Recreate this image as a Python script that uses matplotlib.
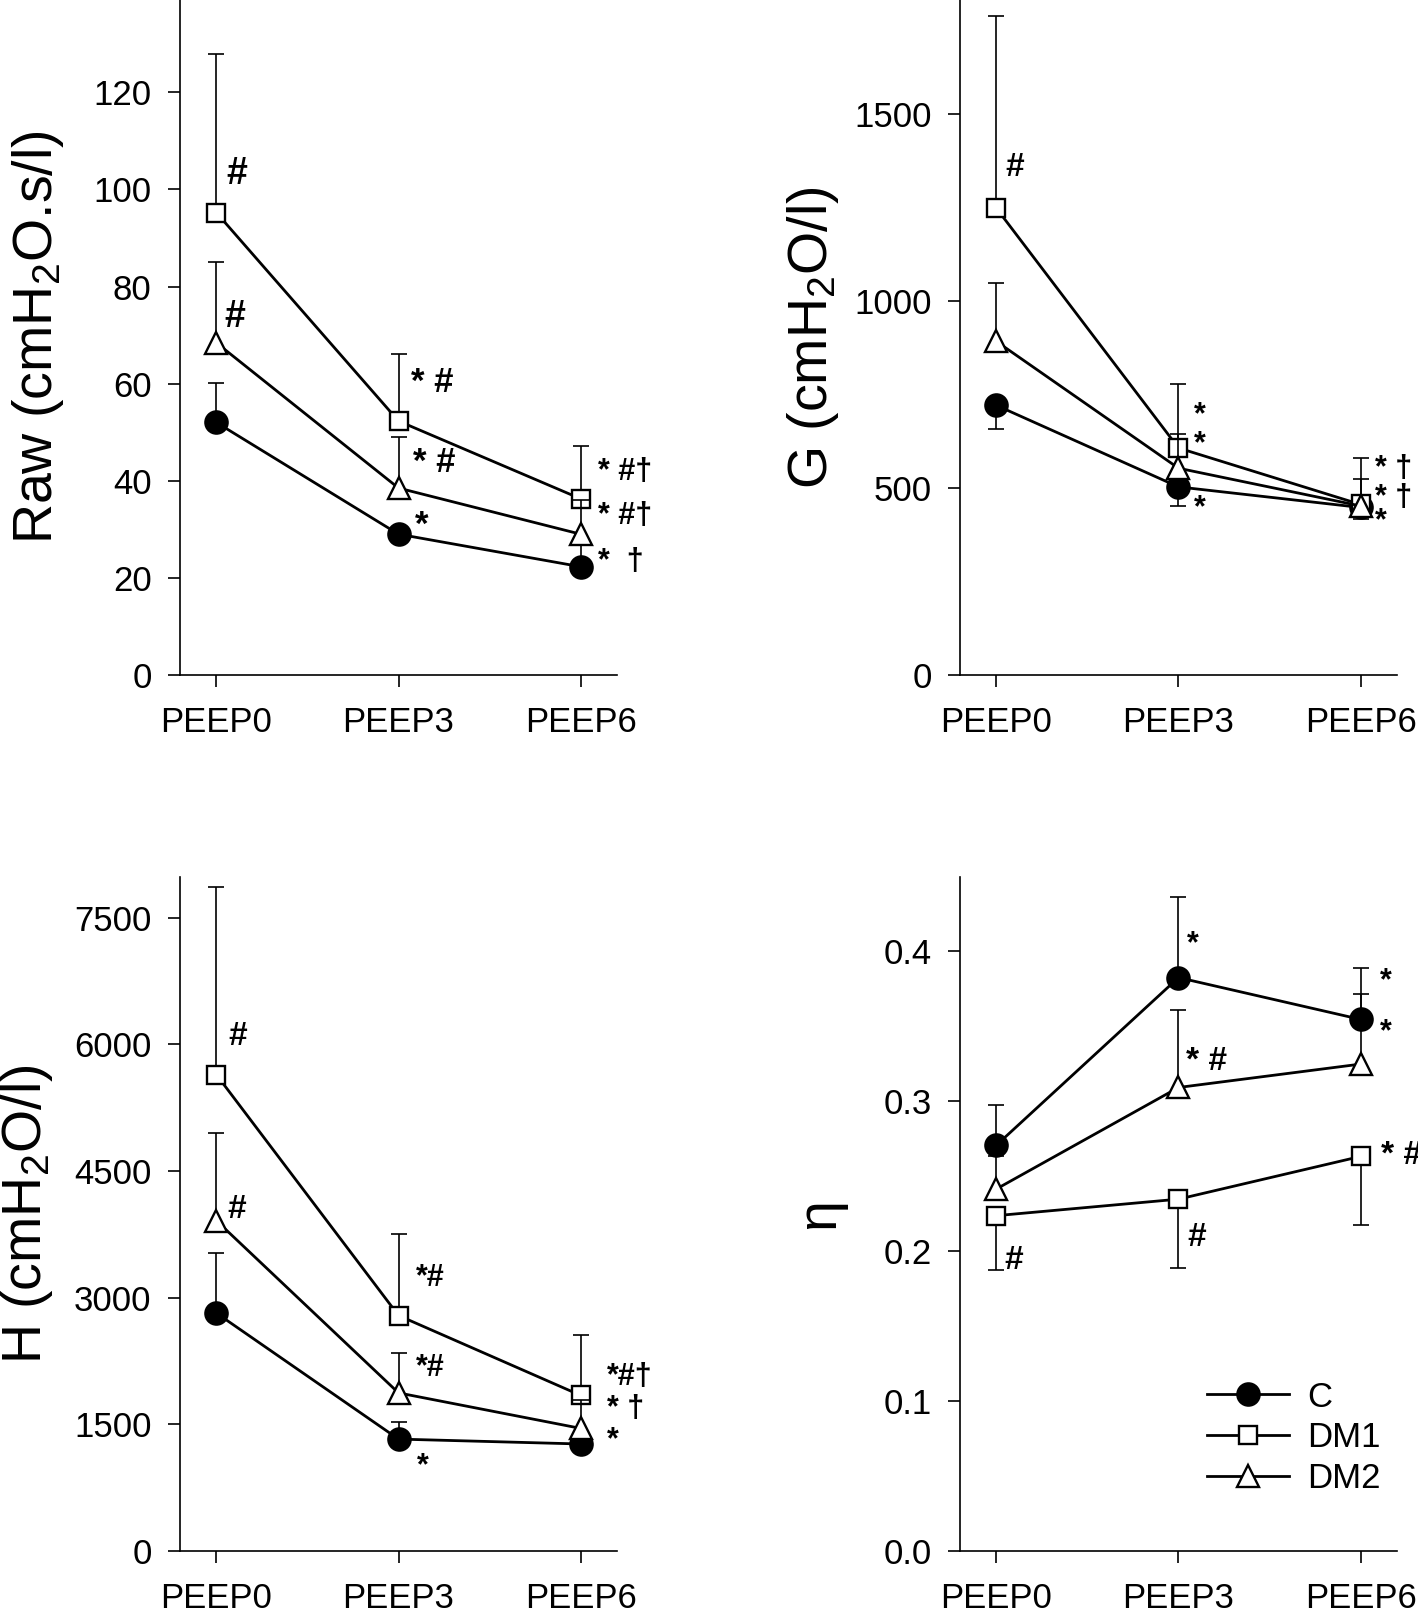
import numpy as np
import matplotlib
matplotlib.use("Agg")
import matplotlib.pyplot as plt

plt.rcParams['font.family'] = ['Liberation Sans', 'DejaVu Sans']
plt.rcParams['mathtext.fontset'] = 'custom'
plt.rcParams['mathtext.rm'] = 'Liberation Sans'
plt.rcParams['mathtext.it'] = 'Liberation Sans:italic'
plt.rcParams['mathtext.bf'] = 'Liberation Sans:bold'

# ---- data ----
peep = ['PEEP0', 'PEEP3', 'PEEP6']
groups = ['C', 'DM1', 'DM2']

# Raw (cmH2O.s/l)
raw_c = [52.0, 29.0, 22.3]
raw_c_up = [8.2, 0.0, 4.5]
raw_dm1 = [95.2, 52.3, 36.3]
raw_dm1_up = [32.7, 13.8, 10.9]
raw_dm2 = [68.4, 38.5, 29.0]
raw_dm2_up = [16.7, 10.5, 7.0]

# G (cmH2O/l)
g_c = [721, 503, 448]
g_c_dn = [64, 51, 31]
g_dm1 = [1248, 607, 456]
g_dm1_up = [514, 171, 123]
g_dm2 = [892, 553, 452]
g_dm2_up = [155, 92, 72]

# H (cmH2O/l)
h_c = [2817, 1325, 1267]
h_c_up = [708, 200, 0]
h_dm1 = [5639, 2788, 1843]
h_dm1_up = [2223, 962, 720]
h_dm2 = [3911, 1872, 1452]
h_dm2_up = [1043, 472, 330]

# eta
eta_c = [0.2707, 0.3825, 0.3546]
eta_c_up = [0.027, 0.054, 0.034]
eta_dm1 = [0.2237, 0.2347, 0.2632]
eta_dm1_dn = [0.036, 0.046, 0.046]
eta_dm2 = [0.2415, 0.3092, 0.3248]
eta_dm2_up = [0.022, 0.052, 0.047]

zeros = [0, 0, 0]

markers = {'C': dict(marker='o', ms=16, mfc='black'),
           'DM1': dict(marker='s', ms=13.5, mfc='white'),
           'DM2': dict(marker='^', ms=15.5, mfc='white')}

W, H = 1418, 1612
fig = plt.figure(figsize=(W / 100, H / 100), dpi=100)

def make_ax(left, bottom, top):
    return fig.add_axes([left / W, 1 - bottom / H, 437 / W, (bottom - top) / H])

ax1 = make_ax(180, 675, 0)
ax2 = make_ax(960, 675, 0)
ax3 = make_ax(180, 1551, 877)
ax4 = make_ax(960, 1551, 877)

def draw(ax, series):
    x = np.arange(len(peep))
    z = 2
    for name, y, dn, up in series:
        y, dn, up = np.asarray(y, float), np.asarray(dn, float), np.asarray(up, float)
        ax.errorbar(x, y, yerr=[dn, up], fmt='none', ecolor='black',
                    elinewidth=1.2, capsize=0, zorder=z)
        # caps only on the side that carries an error
        for e, sgn in ((up, 1), (dn, -1)):
            m = e > 0
            ax.plot(x[m], y[m] + sgn * e[m], ls='none', marker='_', ms=12,
                    mew=1.2, color='black', zorder=z, clip_on=False)
        ax.plot(x, y, color='black', lw=2.0, mec='black', mew=1.7,
                zorder=z + 1, label=name, clip_on=False, **markers[name])
        z += 2
    ax.set_xlim(-0.2, 2.2)
    ax.set_xticks(x)
    ax.set_xticklabels(peep)
    for s in ['top', 'right']:
        ax.spines[s].set_visible(False)
    for s in ['left', 'bottom']:
        ax.spines[s].set_linewidth(1.2)
    ax.tick_params(axis='both', direction='out', length=8.5, width=1.2,
                   labelsize=25)
    ax.tick_params(axis='y', pad=12)
    ax.tick_params(axis='x', pad=14)

def ylab(ax, text, xpos):
    ax.text(xpos, 0.5, text, rotation=90, ha='center', va='center',
            fontsize=40, transform=ax.transAxes)

def notes(ax, items):
    for x, y, t, fs in items:
        ax.text(x, y, t, ha='left', va='center', fontsize=fs,
                fontweight='bold', clip_on=False)

# Raw
draw(ax1, [('C', raw_c, zeros, raw_c_up),
           ('DM1', raw_dm1, zeros, raw_dm1_up),
           ('DM2', raw_dm2, zeros, raw_dm2_up)])
ax1.set_ylim(0, 139)
ax1.set_yticks([0, 20, 40, 60, 80, 100, 120])
ylab(ax1, 'Raw (cmH$_2$O.s/l)', -0.325)
notes(ax1, [(0.057, 103.2, '#', 27), (0.044, 73.7, '#', 27),
            (1.066, 60.2, '* #', 25), (1.078, 43.8, '* #', 25),
            (1.088, 30.9, '*', 25),
            (2.098, 41.8, '* #†', 22), (2.098, 32.8, '* #†', 22),
            (2.098, 23.3, '*  †', 22)])

# G
draw(ax2, [('C', g_c, g_c_dn, zeros),
           ('DM1', g_dm1, zeros, g_dm1_up),
           ('DM2', g_dm2, zeros, g_dm2_up)])
ax2.set_ylim(0, 1805)
ax2.set_yticks([0, 500, 1000, 1500])
ylab(ax2, 'G (cmH$_2$O/l)', -0.336)
notes(ax2, [(0.047, 1358, '#', 24), (1.083, 695, '*', 22),
            (1.083, 618, '*', 22), (1.083, 446, '*', 22),
            (2.08, 550, '* †', 22), (2.08, 474, '* †', 22),
            (2.08, 410, '*', 22)])

# H
draw(ax3, [('C', h_c, zeros, h_c_up),
           ('DM1', h_dm1, zeros, h_dm1_up),
           ('DM2', h_dm2, zeros, h_dm2_up)])
ax3.set_ylim(0, 7980)
ax3.set_yticks([0, 1500, 3000, 4500, 6000, 7500])
ylab(ax3, 'H (cmH$_2$O/l)', -0.35)
notes(ax3, [(0.063, 6086, '#', 24), (0.06, 4042, '#', 24),
            (1.096, 3237, '*#', 22), (1.096, 2172, '*#', 22),
            (1.1, 1000, '*', 22),
            (2.143, 2060, '*#†', 22), (2.143, 1684, '* †', 22),
            (2.143, 1317, '*', 22)])

# eta
draw(ax4, [('C', eta_c, zeros, eta_c_up),
           ('DM1', eta_dm1, eta_dm1_dn, zeros),
           ('DM2', eta_dm2, zeros, eta_dm2_up)])
ax4.set_ylim(0, 0.4496)
ax4.set_yticks([0.0, 0.1, 0.2, 0.3, 0.4])
ax4.set_yticklabels(['0.0', '0.1', '0.2', '0.3', '0.4'])
ylab(ax4, 'η', -0.32)
notes(ax4, [(1.049, 0.4047, '*', 22), (2.105, 0.380, '*', 22),
            (2.105, 0.346, '*', 22),
            (1.039, 0.3264, '* #', 24), (2.112, 0.2639, '* #', 24),
            (1.049, 0.2091, '#', 24), (0.045, 0.1935, '#', 24)])
handles, labels = ax4.get_legend_handles_labels()
ax4.legend(handles, labels, loc='center left', bbox_to_anchor=(0.565, 0.168),
           frameon=False, fontsize=25, numpoints=1, handlelength=2.35,
           handletextpad=0.55, labelspacing=0.22, borderpad=0, borderaxespad=0)

fig.savefig('out.png', dpi=100)
